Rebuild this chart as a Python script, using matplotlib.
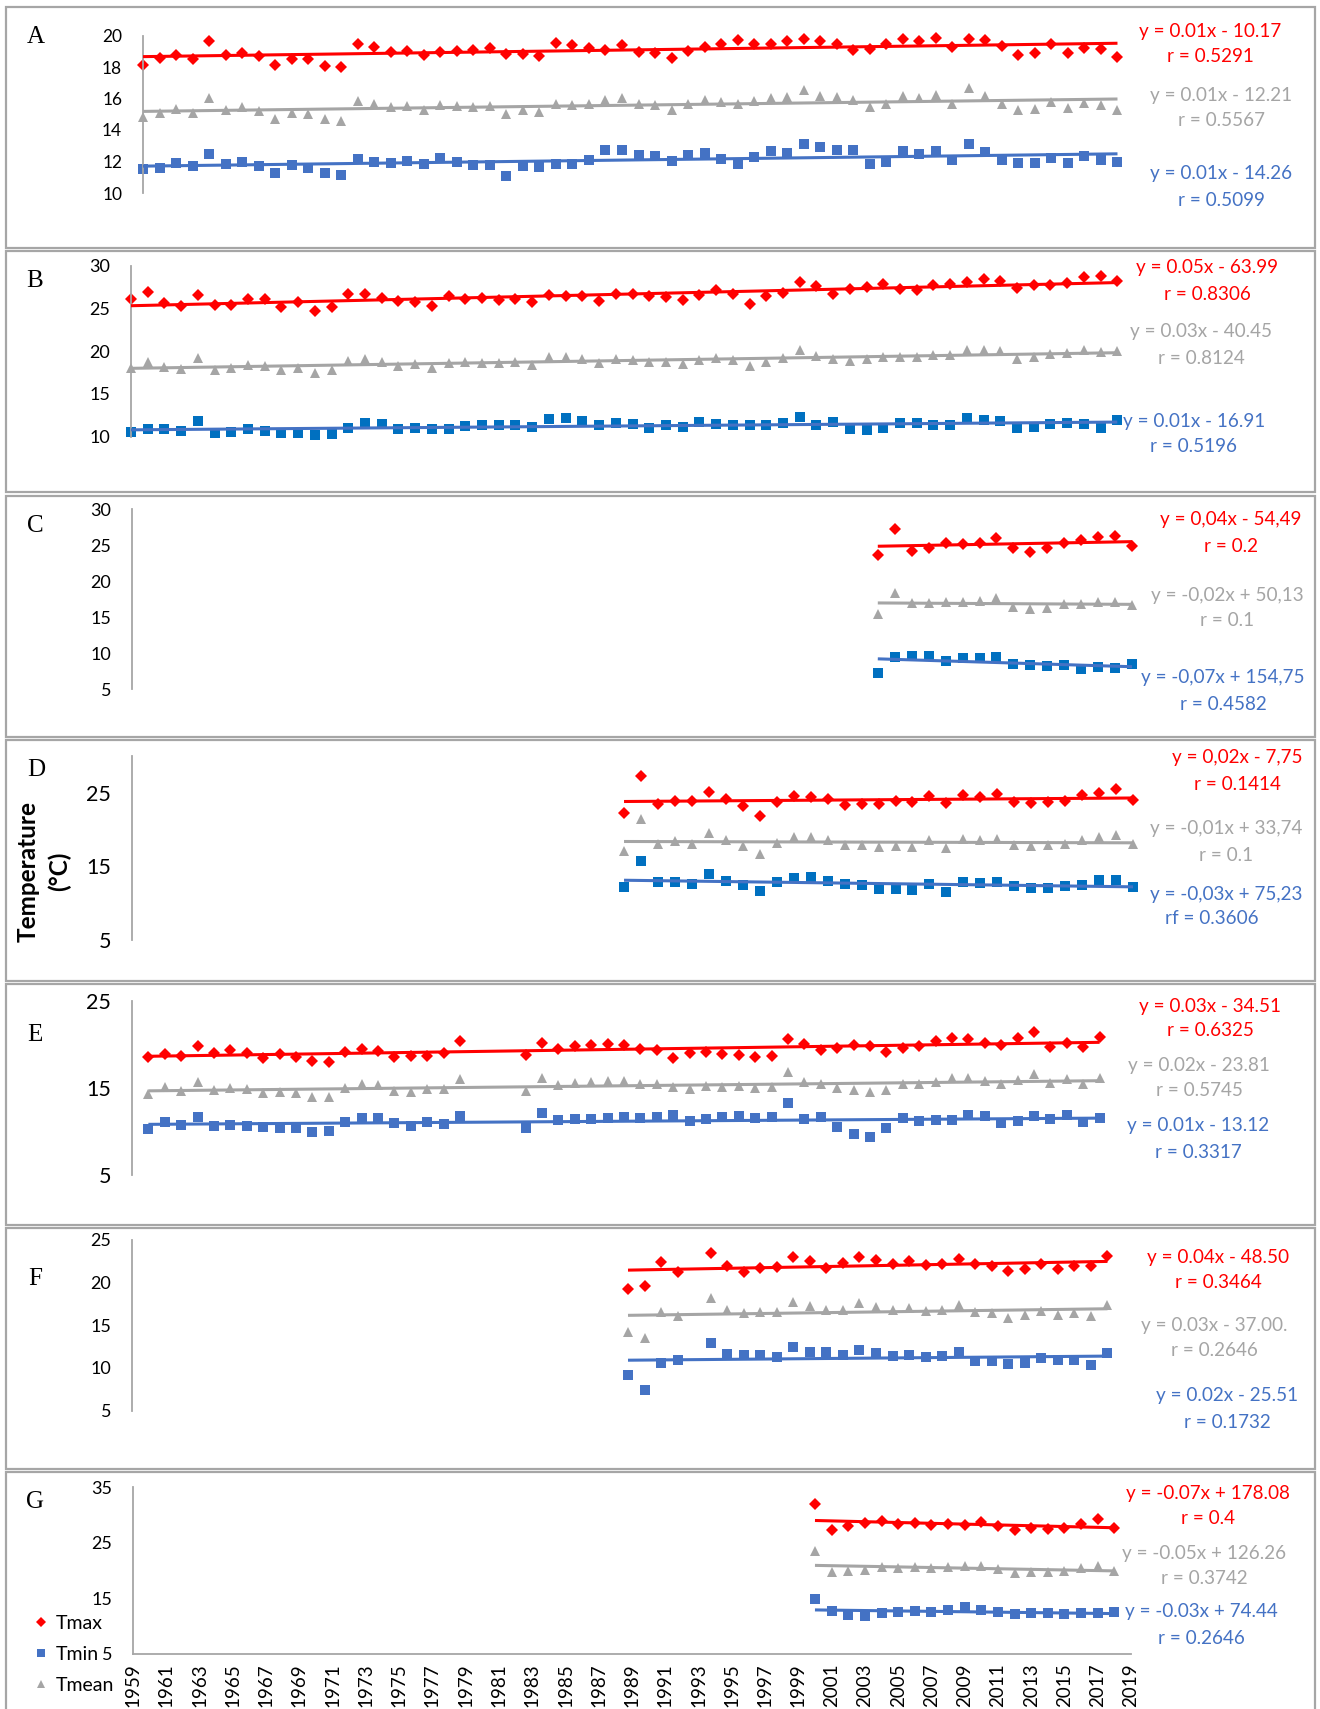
import numpy as np
import matplotlib
matplotlib.use("Agg")
import matplotlib.pyplot as plt
from matplotlib.patches import Rectangle
from matplotlib.lines import Line2D

# ---------------- data (deg C) ----------------
years_a = list(range(1959, 2019))
tmax_a = [18.10, 18.58, 18.77, 18.52, 19.62, 18.77, 18.88, 18.73, 18.12, 18.48,
          18.52, 18.05, 17.99, 19.43, 19.28, 18.94, 18.99, 18.75, 18.94, 19.00,
          19.05, 19.20, 18.82, 18.80, 18.67, 19.51, 19.37, 19.22, 19.07, 19.37,
          18.94, 18.90, 18.60, 19.00, 19.28, 19.49, 19.70, 19.43, 19.49, 19.66,
          19.75, 19.66, 19.43, 19.07, 19.17, 19.45, 19.75, 19.64, 19.87, 19.28,
          19.80, 19.70, 19.32, 18.75, 18.92, 19.49, 18.86, 19.22, 19.17, 18.65]
tmean_a = [14.82, 15.07, 15.35, 15.07, 16.05, 15.29, 15.45, 15.20, 14.71, 15.07,
           15.03, 14.67, 14.57, 15.81, 15.62, 15.45, 15.50, 15.24, 15.60, 15.50,
           15.45, 15.50, 14.99, 15.24, 15.14, 15.67, 15.60, 15.67, 15.92, 16.05,
           15.67, 15.60, 15.29, 15.62, 15.92, 15.77, 15.67, 15.81, 16.05, 16.09,
           16.55, 16.19, 16.09, 15.88, 15.45, 15.62, 16.13, 16.05, 16.24, 15.62,
           16.68, 16.13, 15.67, 15.29, 15.35, 15.77, 15.39, 15.71, 15.60, 15.29]
tmin_a = [11.54, 11.61, 11.90, 11.71, 12.45, 11.82, 11.99, 11.71, 11.29, 11.78,
          11.59, 11.29, 11.12, 12.18, 11.99, 11.92, 12.03, 11.82, 12.22, 11.97,
          11.80, 11.80, 11.08, 11.71, 11.65, 11.86, 11.86, 12.11, 12.71, 12.75,
          12.43, 12.35, 12.03, 12.39, 12.54, 12.18, 11.82, 12.28, 12.64, 12.56,
          13.13, 12.90, 12.75, 12.75, 11.86, 11.97, 12.64, 12.49, 12.66, 12.07,
          13.08, 12.60, 12.11, 11.90, 11.90, 12.22, 11.90, 12.33, 12.07, 11.99]

years_b = list(range(1959, 2019))
tmax_b = [26.10, 26.88, 25.67, 25.28, 26.57, 25.40, 25.40, 26.06, 26.06, 25.20,
          25.71, 24.74, 25.20, 26.69, 26.69, 26.18, 25.91, 25.79, 25.32, 26.49,
          26.10, 26.18, 25.98, 26.10, 25.71, 26.57, 26.49, 26.49, 25.91, 26.73,
          26.73, 26.49, 26.37, 25.98, 26.57, 27.15, 26.65, 25.52, 26.45, 26.76,
          28.05, 27.66, 26.69, 27.23, 27.47, 27.82, 27.23, 27.15, 27.74, 27.86,
          28.05, 28.40, 28.21, 27.35, 27.74, 27.74, 27.93, 28.71, 28.79, 28.25]
tmean_b = [18.07, 18.77, 18.19, 17.91, 19.16, 17.80, 17.99, 18.38, 18.27, 17.80,
           18.07, 17.41, 17.80, 18.89, 19.08, 18.77, 18.30, 18.46, 18.07, 18.58,
           18.69, 18.65, 18.58, 18.69, 18.38, 19.36, 19.36, 19.04, 18.58, 19.08,
           18.97, 18.77, 18.77, 18.50, 18.97, 19.24, 18.97, 18.30, 18.77, 19.16,
           20.14, 19.43, 19.08, 18.89, 19.04, 19.36, 19.36, 19.36, 19.55, 19.55,
           20.14, 20.14, 20.02, 19.08, 19.36, 19.63, 19.75, 20.14, 19.86, 20.06]
tmin_b = [10.51, 10.90, 10.86, 10.66, 11.87, 10.39, 10.59, 10.86, 10.70, 10.39,
          10.39, 10.19, 10.27, 11.05, 11.56, 11.44, 10.86, 11.05, 10.86, 10.86,
          11.29, 11.36, 11.36, 11.36, 11.17, 12.03, 12.22, 11.83, 11.36, 11.56,
          11.44, 11.05, 11.36, 11.17, 11.68, 11.44, 11.36, 11.36, 11.36, 11.64,
          12.34, 11.36, 11.75, 10.90, 10.78, 10.97, 11.56, 11.56, 11.36, 11.36,
          12.22, 11.95, 11.83, 11.05, 11.17, 11.48, 11.64, 11.48, 11.05, 11.95]

years_c = list(range(2003, 2019))
tmax_c = [23.61, 27.22, 24.21, 24.54, 25.23, 25.14, 25.23, 25.93, 24.54, 24.07,
          24.54, 25.23, 25.69, 26.06, 26.25, 24.86]
tmean_c = [15.37, 18.29, 16.90, 16.96, 17.13, 17.13, 17.27, 17.59, 16.44, 16.11,
           16.20, 16.76, 16.76, 17.04, 17.04, 16.67]
tmin_c = [7.18, 9.49, 9.63, 9.63, 8.89, 9.26, 9.26, 9.49, 8.43, 8.33,
          8.24, 8.33, 7.78, 8.01, 7.87, 8.43]

years_d = list(range(1988, 2019))
tmax_d = [22.24, 27.35, 23.46, 23.91, 23.82, 25.09, 24.14, 23.24, 21.79, 23.73,
          24.59, 24.41, 24.14, 23.37, 23.51, 23.46, 23.82, 23.69, 24.50, 23.60,
          24.64, 24.41, 24.82, 23.69, 23.60, 23.73, 23.82, 24.64, 24.95, 25.54, 24.05]
tmean_d = [17.04, 21.43, 18.03, 18.39, 18.03, 19.52, 18.53, 17.81, 16.67, 18.17,
           18.94, 18.94, 18.53, 17.85, 17.85, 17.58, 17.81, 17.62, 18.53, 17.49,
           18.76, 18.53, 18.76, 17.94, 17.71, 17.85, 18.03, 18.53, 18.94, 19.30, 18.03]
tmin_d = [12.15, 15.68, 12.83, 12.83, 12.60, 14.00, 13.05, 12.42, 11.61, 12.83,
          13.42, 13.55, 12.96, 12.65, 12.42, 11.92, 11.92, 11.74, 12.60, 11.52,
          12.83, 12.74, 12.87, 12.38, 12.06, 12.06, 12.29, 12.51, 13.10, 13.10, 12.19]

nan = float("nan")
years_e = list(range(1960, 2019))
tmax_e = [18.60, 18.91, 18.72, 19.83, 18.98, 19.37, 18.98, 18.41, 18.91, 18.60,
          18.10, 17.95, 19.18, 19.44, 19.25, 18.60, 18.68, 18.68, 19.06, 20.44,
          nan, nan, nan, 18.79, 20.21, 19.44, 19.87, 19.94, 20.02, 19.94,
          19.44, 19.37, 18.41, 18.98, 19.18, 18.87, 18.79, 18.60, 18.68, 20.63,
          20.02, 19.37, 19.64, 19.94, 19.83, 19.18, 19.56, 19.83, 20.44, 20.79,
          20.59, 20.21, 19.94, 20.71, 21.40, 19.67, 20.21, 19.75, 20.82]
tmean_e = [14.27, 15.15, 14.66, 15.73, 14.77, 15.04, 14.85, 14.39, 14.58, 14.39,
           13.93, 14.00, 15.04, 15.42, 15.34, 14.66, 14.58, 14.85, 14.85, 16.00,
           nan, nan, nan, 14.66, 16.11, 15.34, 15.61, 15.65, 15.80, 15.80,
           15.46, 15.46, 15.08, 14.89, 15.23, 15.08, 15.27, 14.96, 15.08, 16.88,
           15.65, 15.46, 14.96, 14.77, 14.50, 14.77, 15.46, 15.46, 15.73, 16.11,
           16.19, 15.84, 15.42, 15.92, 16.57, 15.54, 16.00, 15.42, 16.19]
tmin_e = [10.29, 11.05, 10.75, 11.70, 10.67, 10.75, 10.67, 10.56, 10.44, 10.36,
          9.98, 10.10, 11.05, 11.51, 11.59, 10.94, 10.67, 11.13, 10.82, 11.78,
          nan, nan, nan, 10.44, 12.09, 11.32, 11.40, 11.40, 11.59, 11.70,
          11.51, 11.70, 11.90, 11.21, 11.44, 11.70, 11.82, 11.59, 11.70, 13.24,
          11.40, 11.63, 10.48, 9.67, 9.33, 10.36, 11.51, 11.21, 11.32, 11.32,
          11.90, 11.78, 10.94, 11.21, 11.78, 11.40, 11.90, 11.13, 11.51]

years_f = list(range(1989, 2019))
tmax_f = [19.25, 19.60, 22.46, 21.28, nan, 23.43, 21.99, 21.28, 21.67, 21.87,
          22.96, 22.53, 21.75, 22.26, 23.04, 22.65, 22.18, 22.53, 22.06, 22.14,
          22.77, 22.18, 21.99, 21.40, 21.59, 22.14, 21.56, 21.99, 21.99, 23.16]
tmean_f = [14.16, 13.45, 16.51, 16.08, nan, 18.15, 16.78, 16.39, 16.51, 16.51,
           17.68, 17.25, 16.78, 16.78, 17.56, 17.17, 16.78, 17.05, 16.66, 16.78,
           17.37, 16.59, 16.39, 15.88, 16.19, 16.66, 16.19, 16.39, 16.12, 17.37]
tmin_f = [9.15, 7.39, 10.52, 10.91, nan, 12.87, 11.58, 11.50, 11.50, 11.22,
          12.48, 11.89, 11.89, 11.50, 12.08, 11.69, 11.42, 11.50, 11.30, 11.38,
          11.89, 10.79, 10.79, 10.40, 10.60, 11.18, 10.91, 10.91, 10.32, 11.69]

years_g = list(range(2000, 2019))
tmax_g = [32.02, 27.25, 27.96, 28.56, 28.92, 28.32, 28.62, 28.14, 28.44, 28.26,
          28.74, 28.02, 27.25, 27.55, 27.37, 27.67, 28.44, 29.22, 27.55]
tmean_g = [23.49, 19.79, 19.91, 20.09, 20.57, 20.39, 20.69, 20.39, 20.69, 20.81,
           20.87, 20.21, 19.50, 19.79, 19.79, 19.91, 20.39, 20.87, 19.91]
tmin_g = [14.85, 12.76, 11.92, 11.74, 12.34, 12.52, 12.64, 12.52, 12.82, 13.41,
          12.94, 12.52, 12.16, 12.34, 12.34, 12.16, 12.34, 12.34, 12.52]

# trend equation labels as printed on the chart
eq_a = ["y = 0.01x - 10.17", "r = 0.5291", "y = 0.01x - 12.21", "r = 0.5567", "y = 0.01x - 14.26", "r = 0.5099"]
eq_b = ["y = 0.05x - 63.99", "r = 0.8306", "y = 0.03x - 40.45", "r = 0.8124", "y = 0.01x - 16.91", "r = 0.5196"]
eq_c = ["y = 0,04x - 54,49", "r = 0.2", "y = -0,02x + 50,13", "r = 0.1", "y = -0,07x + 154,75", "r = 0.4582"]
eq_d = ["y = 0,02x - 7,75", "r = 0.1414", "y = -0,01x + 33,74", "r = 0.1", "y = -0,03x + 75,23", "rf = 0.3606"]
eq_e = ["y = 0.03x - 34.51", "r = 0.6325", "y = 0.02x - 23.81", "r = 0.5745", "y = 0.01x - 13.12", "r = 0.3317"]
eq_f = ["y = 0.04x - 48.50", "r = 0.3464", "y = 0.03x - 37.00.", "r = 0.2646", "y = 0.02x - 25.51", "r = 0.1732"]
eq_g = ["y = -0.07x + 178.08", "r = 0.4", "y = -0.05x + 126.26", "r = 0.3742", "y = -0.03x + 74.44", "r = 0.2646"]

RED = "#FF0000"
GREY = "#A5A5A5"
BLUE = "#4472C4"
BLUE2 = "#0070C0"
AXC = "#A6A6A6"
SANS = "Lato"

W, H = 1320, 1709
fig = plt.figure(figsize=(W / 100, H / 100), dpi=100)


def fx(x):
    return x / W


def fy(y):
    return 1 - y / H


def panel(letter, box_top, x0, x1, ytop, ybot, ylim, yticks, tsize,
          years, tmax, tmean, tmin, bcol, eqs, eq_pos, letter_xy, bottom_axis=False):
    # frame round the panel
    fig.add_artist(Rectangle((fx(6), fy(box_top + 241)), fx(1309), 241 / H,
                             transform=fig.transFigure, fill=False,
                             edgecolor=AXC, linewidth=1.6))
    ax = fig.add_axes([fx(x0), fy(ybot), fx(x1 - x0), (ybot - ytop) / H])
    ax.set_facecolor("none")
    ax.set_xlim(1959, 2019)
    ax.set_ylim(*ylim)
    ax.set_yticks(yticks)
    for s in ["top", "right"]:
        ax.spines[s].set_visible(False)
    ax.spines["left"].set_color(AXC)
    ax.spines["left"].set_linewidth(1.3)
    ax.spines["bottom"].set_visible(bottom_axis)
    ax.spines["bottom"].set_color(AXC)
    ax.spines["bottom"].set_linewidth(1.3)
    ax.tick_params(axis="y", length=0, pad=15, labelsize=tsize)
    for t in ax.get_yticklabels():
        t.set_fontfamily(SANS)
    if bottom_axis:
        ax.set_xticks(list(range(1959, 2020, 2)))
        ax.tick_params(axis="x", length=0, pad=7, labelsize=13.5, labelrotation=90)
        for t in ax.get_xticklabels():
            t.set_fontfamily(SANS)
            t.set_verticalalignment("top")
    else:
        ax.set_xticks([])

    x = np.array(years, dtype=float)
    series = [(tmax, RED, RED, "D", 6.2), (tmean, GREY, GREY, "^", 7.2), (tmin, bcol, BLUE, "s", 7.0)]
    for vals, mcol, lcol, mk, ms in series:
        y = np.array(vals, dtype=float)
        ax.plot(x, y, linestyle="none", marker=mk, markersize=ms, color=mcol,
                markeredgewidth=0, zorder=2, clip_on=False)
        ok = ~np.isnan(y)
        k, b = np.polyfit(x[ok], y[ok], 1)
        xs = np.array([x[ok].min(), x[ok].max()])
        ax.plot(xs, k * xs + b, color=lcol, linewidth=2.2, zorder=3,
                solid_capstyle="butt")

    cols = [RED, RED, GREY, GREY, BLUE, BLUE]
    for s, c, (px, py) in zip(eqs, cols, eq_pos):
        fig.text(fx(px), fy(py), s, color=c, ha="center", va="center",
                 fontsize=13.6, family=SANS)
    fig.text(fx(letter_xy[0]), fy(letter_xy[1]), letter, ha="center", va="center",
             fontsize=18, family="Liberation Serif")
    return ax


panel("A", 7, 143, 1134, 35.5, 193, (10, 20), [10, 12, 14, 16, 18, 20], 12.5,
      years_a, tmax_a, tmean_a, tmin_a, BLUE, eq_a,
      [(1210, 31), (1210, 57), (1221, 95), (1221, 120), (1221, 174), (1221, 200)], (36, 37))
panel("B", 251, 131, 1134, 265.7, 436.7, (10, 30), [10, 15, 20, 25, 30], 13,
      years_b, tmax_b, tmean_b, tmin_b, BLUE2, eq_b,
      [(1207, 268), (1207, 295), (1201, 332), (1201, 359), (1194, 421), (1194, 447)], (35, 281))
panel("C", 496, 132, 1149, 509, 689, (5, 30), [5, 10, 15, 20, 25, 30], 13,
      years_c, tmax_c, tmean_c, tmin_c, BLUE2, eq_c,
      [(1231, 520), (1231, 547), (1227, 595), (1227, 621), (1223, 678), (1223, 704)], (35, 526))
panel("D", 740, 132, 1150, 756, 940, (5, 30), [5, 15, 25], 15.5,
      years_d, tmax_d, tmean_d, tmin_d, BLUE2, eq_d,
      [(1237, 758), (1237, 784), (1226, 829), (1226, 856), (1226, 894), (1212, 919)], (36, 770))
panel("E", 984, 132, 1116, 1001, 1175, (5, 25), [5, 15, 25], 15.5,
      years_e, tmax_e, tmean_e, tmin_e, BLUE, eq_e,
      [(1210, 1006), (1210, 1031), (1199, 1065), (1199, 1091), (1198, 1126), (1198, 1152)], (35, 1035))
panel("F", 1228, 132, 1124, 1240, 1410.5, (5, 25), [5, 10, 15, 20, 25], 13,
      years_f, tmax_f, tmean_f, tmin_f, BLUE, eq_f,
      [(1218, 1257), (1218, 1283), (1214, 1325), (1214, 1350), (1227, 1396), (1227, 1422)], (35, 1279))
panel("G", 1472, 133, 1131, 1487, 1654, (5, 35), [5, 15, 25, 35], 13,
      years_g, tmax_g, tmean_g, tmin_g, BLUE, eq_g,
      [(1208, 1493), (1208, 1519), (1204, 1553), (1204, 1579), (1201, 1612), (1201, 1638)], (35, 1502),
      bottom_axis=True)

# shared y label
fig.text(fx(44), fy(871), "Temperature\n(°C)", rotation=90, ha="center", va="center",
         fontsize=17.5, fontweight="bold", family=SANS, linespacing=1.45)

# legend in the lower left corner
handles = [Line2D([], [], linestyle="none", marker="D", color=RED, markersize=4.8, markeredgewidth=0),
           Line2D([], [], linestyle="none", marker="s", color=BLUE, markersize=5.5, markeredgewidth=0),
           Line2D([], [], linestyle="none", marker="^", color=GREY, markersize=6, markeredgewidth=0)]
fig.legend(handles, ["Tmax", "Tmin", "Tmean"], loc="upper left",
           bbox_to_anchor=(fx(34), fy(1615)), bbox_transform=fig.transFigure,
           frameon=False, handlelength=0.7, handletextpad=0.4, labelspacing=0.72,
           borderpad=0, borderaxespad=0, prop={"family": SANS, "size": 14})

fig.savefig("out.png", dpi=100)
